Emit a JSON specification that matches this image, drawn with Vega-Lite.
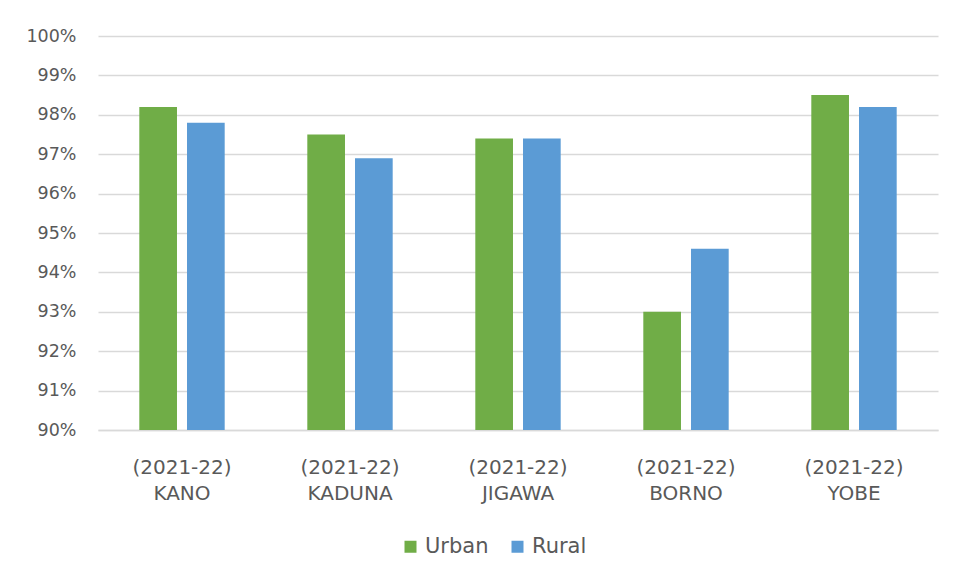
{
  "$schema": "https://vega.github.io/schema/vega-lite/v6.json",
  "autosize": "none",
  "width": 840,
  "height": 394,
  "padding": {"left": 98, "top": 36, "right": 18, "bottom": 151},
  "background": "white",
  "config": {
    "view": {"stroke": null},
    "font": "DejaVu Sans",
    "axis": {"labelColor": "#595959", "labelFont": "DejaVu Sans"},
    "legend": {"labelColor": "#595959", "labelFont": "DejaVu Sans"}
  },
  "data": {
    "values": [
      {"state": "(2021-22) KANO", "area": "Urban", "pct": 98.2},
      {"state": "(2021-22) KANO", "area": "Rural", "pct": 97.8},
      {"state": "(2021-22) KADUNA", "area": "Urban", "pct": 97.5},
      {"state": "(2021-22) KADUNA", "area": "Rural", "pct": 96.9},
      {"state": "(2021-22) JIGAWA", "area": "Urban", "pct": 97.4},
      {"state": "(2021-22) JIGAWA", "area": "Rural", "pct": 97.4},
      {"state": "(2021-22) BORNO", "area": "Urban", "pct": 93.0},
      {"state": "(2021-22) BORNO", "area": "Rural", "pct": 94.6},
      {"state": "(2021-22) YOBE", "area": "Urban", "pct": 98.5},
      {"state": "(2021-22) YOBE", "area": "Rural", "pct": 98.2}
    ]
  },
  "mark": {"type": "bar"},
  "encoding": {
    "x": {
      "field": "state",
      "type": "nominal",
      "sort": null,
      "scale": {"paddingInner": 0, "paddingOuter": 0},
      "axis": {
        "title": null,
        "labelAngle": 0,
        "labelExpr": "split(datum.label, ' ')",
        "labelFontSize": 20,
        "labelLineHeight": 26,
        "labelPadding": 27,
        "ticks": false,
        "domainColor": "#D9D9D9",
        "domainWidth": 1.5
      }
    },
    "xOffset": {
      "field": "area",
      "type": "nominal",
      "sort": ["Urban", "Rural"],
      "scale": {"paddingInner": 0.21, "paddingOuter": 0.866}
    },
    "y": {
      "field": "pct",
      "type": "quantitative",
      "scale": {"domain": [90, 100], "zero": false, "clamp": true, "nice": false},
      "axis": {
        "title": null,
        "values": [90, 91, 92, 93, 94, 95, 96, 97, 98, 99, 100],
        "labelExpr": "datum.value + '%'",
        "labelFontSize": 17.5,
        "labelPadding": 22,
        "ticks": false,
        "domain": false,
        "gridColor": "#D9D9D9",
        "gridWidth": 1.5
      }
    },
    "color": {
      "field": "area",
      "type": "nominal",
      "sort": ["Urban", "Rural"],
      "scale": {"domain": ["Urban", "Rural"], "range": ["#70AD47", "#5B9BD5"]},
      "legend": {
        "title": null,
        "orient": "none",
        "direction": "horizontal",
        "legendX": 302,
        "legendY": 500,
        "symbolType": "square",
        "symbolSize": 144,
        "symbolStrokeWidth": 0,
        "labelFontSize": 21,
        "labelOffset": 4,
        "columnPadding": 18
      }
    }
  }
}
